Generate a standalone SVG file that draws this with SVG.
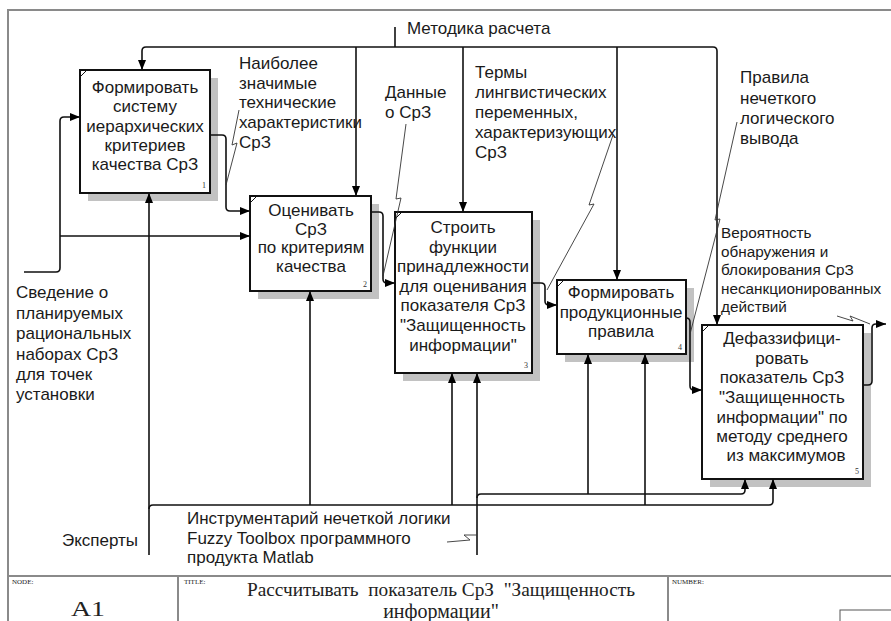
<svg xmlns="http://www.w3.org/2000/svg" width="891" height="621" viewBox="0 0 891 621">
<defs>
<marker id="ah" markerUnits="userSpaceOnUse" markerWidth="10" markerHeight="8" refX="10" refY="4" orient="auto">
<path d="M0,0 L10,4 L0,8 z" fill="#000"/>
</marker>
<style>
.frame{fill:none;stroke:#8a8a8a;stroke-width:2}
.box{fill:#fff;stroke:#111;stroke-width:2}
.shadow{fill:#c2c2c2}
.c{fill:none;stroke:#111;stroke-width:1.6}
.a{marker-end:url(#ah)}
.sq{fill:none;stroke:#333;stroke-width:0.9}
.t{font-family:"Liberation Sans",Arial,sans-serif;font-size:17px;fill:#1a1a1a}
.tm{text-anchor:middle}
.v{font-size:15.3px}
.s{font-family:"Liberation Serif","Times New Roman",serif;fill:#222}
.num{font-family:"Liberation Serif",serif;font-size:8px;fill:#333}
</style>
</defs>
<rect width="891" height="621" fill="#fff"/>
<!-- frame -->
<g id="frame">
<path class="frame" d="M8,621 V10 H891"/>
<path class="frame" d="M8,576 H891 M178,576 V621 M668,576 V621"/>
<rect x="840" y="610" width="60" height="20" fill="none" stroke="#555" stroke-width="1"/>
<text class="s" x="12" y="584" font-size="7">NODE:</text>
<text class="s" x="71" y="616" font-size="22" textLength="34" lengthAdjust="spacingAndGlyphs">A1</text>
<text class="s" x="184" y="584" font-size="7">TITLE:</text>
<text class="s" x="247" y="596" font-size="18" textLength="388" lengthAdjust="spacingAndGlyphs" xml:space="preserve">Рассчитывать  показатель СрЗ  "Защищенность</text>
<text class="s" x="441" y="618" font-size="20" text-anchor="middle">информации"</text>
<text class="s" x="672" y="584" font-size="7">NUMBER:</text>
</g>
<!-- nodes -->
<g id="node1">
<rect class="shadow" x="88" y="78" width="130" height="123"/>
<rect class="box" x="80" y="70" width="130" height="123"/>
<path d="M81,76 L86,71" stroke="#111" stroke-width="1"/>
<text class="t tm" x="145" y="93">Формировать</text>
<text class="t tm" x="145" y="112">систему</text>
<text class="t tm" x="145" y="132">иерархических</text>
<text class="t tm" x="145" y="151">критериев</text>
<text class="t tm" x="145" y="170">качества СрЗ</text>
<text class="num" x="202" y="188">1</text>
</g>
<g id="node2">
<rect class="shadow" x="258" y="204" width="121" height="95"/>
<rect class="box" x="250" y="196" width="121" height="95"/>
<path d="M251,202 L256,197" stroke="#111" stroke-width="1"/>
<text class="t tm" x="311" y="216">Оценивать</text>
<text class="t tm" x="311" y="235">СрЗ</text>
<text class="t tm" x="311" y="253">по критериям</text>
<text class="t tm" x="311" y="272">качества</text>
<text class="num" x="363" y="287">2</text>
</g>
<g id="node3">
<rect class="shadow" x="403" y="220" width="137" height="161"/>
<rect class="box" x="395" y="212" width="137" height="161"/>
<path d="M396,218 L401,213" stroke="#111" stroke-width="1"/>
<text class="t tm" x="463" y="233">Строить</text>
<text class="t tm" x="463" y="253">функции</text>
<text class="t tm" x="463" y="272">принадлежности</text>
<text class="t tm" x="463" y="292">для оценивания</text>
<text class="t tm" x="463" y="311">показателя СрЗ</text>
<text class="t tm" x="463" y="331">"Защищенность</text>
<text class="t tm" x="463" y="351">информации"</text>
<text class="num" x="524" y="368">3</text>
</g>
<g id="node4">
<rect class="shadow" x="565" y="288" width="129" height="74"/>
<rect class="box" x="557" y="280" width="129" height="74"/>
<path d="M558,286 L563,281" stroke="#111" stroke-width="1"/>
<text class="t tm" x="621" y="298">Формировать</text>
<text class="t tm" x="621" y="318">продукционные</text>
<text class="t tm" x="621" y="337">правила</text>
<text class="num" x="678" y="350">4</text>
</g>
<g id="node5">
<rect class="shadow" x="710" y="333" width="161" height="154"/>
<rect class="box" x="702" y="325" width="161" height="154"/>
<path d="M703,331 L708,326" stroke="#111" stroke-width="1"/>
<text class="t tm" x="782" y="344">Дефаззифици-</text>
<text class="t tm" x="782" y="364">ровать</text>
<text class="t tm" x="782" y="383">показатель СрЗ</text>
<text class="t tm" x="782" y="403">"Защищенность</text>
<text class="t tm" x="782" y="423">информации" по</text>
<text class="t tm" x="782" y="442">методу среднего</text>
<text class="t tm" x="786" y="461">из максимумов</text>
<text class="num" x="855" y="474">5</text>
</g>
<!-- connectors -->
<g id="connectors">
<path class="c" d="M395,27 V47"/>
<path class="c a" d="M395,47 H146 Q142,47 142,51 V70"/>
<path class="c a" d="M395,47 H713 Q717,47 717,51 V325"/>
<path class="c a" d="M356,47 V196"/>
<path class="c a" d="M463,47 V212"/>
<path class="c a" d="M617,47 V280"/>
<path class="c a" d="M24,272 H56 Q60,272 60,268 V121 Q60,117 64,117 H80"/>
<path class="c a" d="M60,236 H250"/>
<path class="c a" d="M210,135 H222 Q226,135 226,139 V207 Q226,211 230,211 H250"/>
<path class="c a" d="M371,212 H379 Q383,212 383,216 V279 Q383,283 387,283 H395"/>
<path class="c a" d="M532,283 H541 Q545,283 545,287 V301 Q545,305 549,305 H557"/>
<path class="c a" d="M686,318 Q690,318 690,322 V386 Q690,390 694,390 H702"/>
<path class="c a" d="M863,385 H868 Q872,385 872,381 V328 Q872,324 876,324 H886"/>
<path class="c a" d="M149,555 V193"/>
<path class="c a" d="M149,509 Q149,505 153,505 H769 Q773,505 773,501 V479"/>
<path class="c a" d="M310,505 V291"/>
<path class="c a" d="M452,505 V373"/>
<path class="c a" d="M645,505 V354"/>
<path class="c a" d="M477,555 V373"/>
<path class="c a" d="M477,498 Q477,494 481,494 H741 Q745,494 745,490 V479"/>
<path class="c a" d="M588,494 V354"/>
<!-- label squiggles -->
<path class="sq" d="M239,110 L232,145 L237,143 L226,185"/>
<path class="sq" d="M406,124 L396,199 L401,198 L383,276"/>
<path class="sq" d="M613,135 L589,205 L594,204 L547,290"/>
<path class="sq" d="M737,122 L715,220 L720,219 L690,334"/>
<path class="sq" d="M837,316 L853,321 L850,316 L870,324"/>
<path class="sq" d="M447,542 L470,540 L464,535 L477,535"/>
</g>
<!-- labels -->
<g id="labels">
<text class="t" x="407" y="34">Методика расчета</text>
<text class="t" x="239" y="69">Наиболее</text>
<text class="t" x="239" y="89">значимые</text>
<text class="t" x="239" y="108">технические</text>
<text class="t" x="239" y="128">характеристики</text>
<text class="t" x="239" y="148">СрЗ</text>
<text class="t" x="385" y="98">Данные</text>
<text class="t" x="385" y="118">о СрЗ</text>
<text class="t" x="475" y="78">Термы</text>
<text class="t" x="475" y="98">лингвистических</text>
<text class="t" x="475" y="118">переменных,</text>
<text class="t" x="475" y="138">характеризующих</text>
<text class="t" x="475" y="158">СрЗ</text>
<text class="t" x="740" y="83">Правила</text>
<text class="t" x="740" y="104">нечеткого</text>
<text class="t" x="740" y="124">логического</text>
<text class="t" x="740" y="144">вывода</text>
<text class="t v" x="721" y="238">Вероятность</text>
<text class="t v" x="721" y="257">обнаружения и</text>
<text class="t v" x="721" y="275">блокирования СрЗ</text>
<text class="t v" x="721" y="294">несанкционированных</text>
<text class="t v" x="721" y="312">действий</text>
<text class="t" x="16" y="298">Сведение о</text>
<text class="t" x="16" y="319">планируемых</text>
<text class="t" x="16" y="339">рациональных</text>
<text class="t" x="16" y="360">наборах СрЗ</text>
<text class="t" x="16" y="380">для точек</text>
<text class="t" x="16" y="400">установки</text>
<text class="t" x="138" y="546" text-anchor="end">Эксперты</text>
<text class="t" x="187" y="524">Инструментарий нечеткой логики</text>
<text class="t" x="187" y="544">Fuzzy Toolbox программного</text>
<text class="t" x="187" y="563">продукта Matlab</text>
</g>
</svg>
